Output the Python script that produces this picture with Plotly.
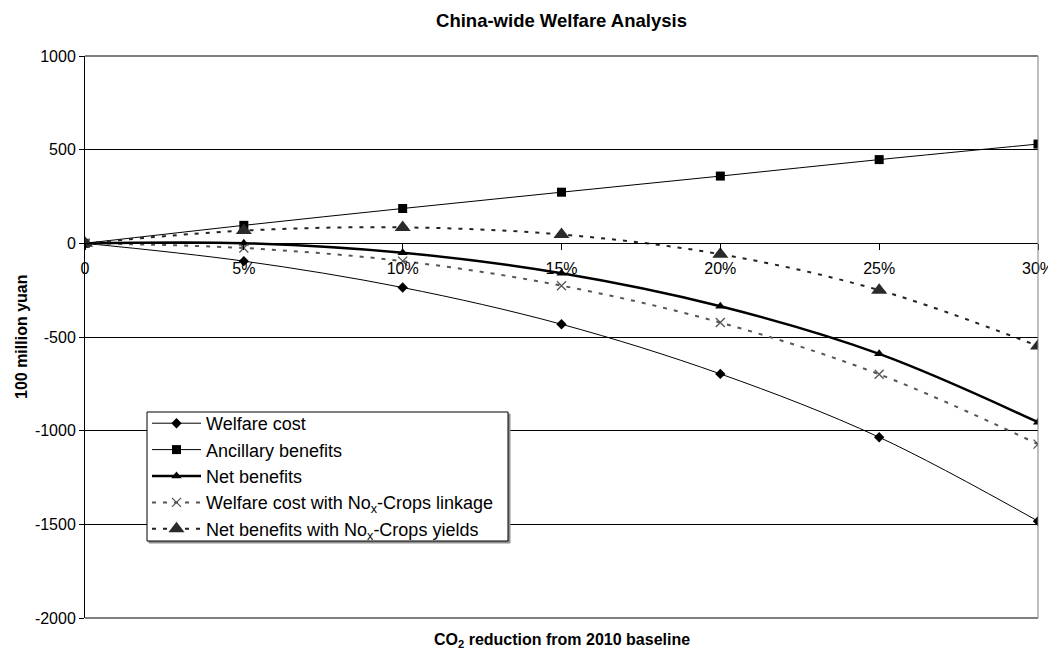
import plotly.graph_objects as go

x_vals = [0, 5, 10, 15, 20, 25, 30]
x_labels = ["0", "5%", "10%", "15%", "20%", "25%", "30%"]
y_vals = [-2000, -1500, -1000, -500, 0, 500, 1000]
y_labels = ["-2000", "-1500", "-1000", "-500", "0", "500", "1000"]

welfare_cost = [0, -95, -236, -432, -697, -1035, -1483]
ancillary_benefits = [0, 96, 186, 273, 359, 447, 530]
net_benefits = [0, 1, -50, -160, -336, -590, -955]
welfare_cost_nox = [0, -25, -95, -226, -423, -699, -1072]
net_benefits_nox = [0, 68, 85, 47, -58, -250, -548]

FONT = "Liberation Sans, Arial, sans-serif"

# the page body has an 8px default margin; the figure is sized to fit the window
W, H = 1048, 647
PL, PR, PT, PB = 77, 18, 48, 37  # plot area: page x 85..1038, page y 56..618
PW, PH = W - PL - PR, H - PT - PB


def px_x(page_x):
    return (page_x - 85) / PW


def px_y(page_y):
    return (618 - page_y) / PH


fig = go.Figure()
fig.add_trace(go.Scatter(
    x=x_vals, y=welfare_cost, name="Welfare cost", mode="lines+markers",
    line=dict(color="black", width=1, shape="spline"),
    marker=dict(symbol="diamond", size=8, color="black")))
fig.add_trace(go.Scatter(
    x=x_vals, y=ancillary_benefits, name="Ancillary benefits", mode="lines+markers",
    line=dict(color="black", width=1, shape="spline"),
    marker=dict(symbol="square", size=9, color="black")))
fig.add_trace(go.Scatter(
    x=x_vals, y=net_benefits, name="Net benefits", mode="lines+markers",
    line=dict(color="black", width=2.5, shape="spline"),
    marker=dict(symbol="triangle-up", size=9, color="black")))
fig.add_trace(go.Scatter(
    x=x_vals, y=welfare_cost_nox, name="Welfare cost with No<sub>x</sub>-Crops linkage",
    mode="lines+markers",
    line=dict(color="#555555", width=2, dash="4px,7px", shape="spline"),
    marker=dict(symbol="x-thin", size=9, color="#555555",
                line=dict(color="#555555", width=1.3))))
fig.add_trace(go.Scatter(
    x=x_vals, y=net_benefits_nox, name="Net benefits with No<sub>x</sub>-Crops yields",
    mode="lines+markers",
    line=dict(color="#222222", width=2, dash="4px,7px", shape="spline"),
    marker=dict(symbol="triangle-up", size=14, color="#2a2a2a")))

fig.update_layout(
    width=W, height=H,
    margin=dict(l=PL, r=PR, t=PT, b=PB, autoexpand=False),
    paper_bgcolor="white", plot_bgcolor="white",
    font=dict(family=FONT, size=16, color="black"),
    title=dict(text="<b>China-wide Welfare Analysis</b>", x=0.5, xref="paper",
               xanchor="center", y=1 - 13 / H, yref="container", yanchor="middle",
               font=dict(size=18.5, family=FONT, color="black")),
    showlegend=True,
    legend=dict(x=px_x(147), y=px_y(405), xanchor="left", yanchor="top",
                bgcolor="rgba(0,0,0,0)", borderwidth=0,
                font=dict(size=18, family=FONT, color="black"),
                itemwidth=49, tracegroupgap=0),
    xaxis=dict(range=[0, 30], tickvals=x_vals, ticktext=x_labels,
               showgrid=False, zeroline=False, showline=True, linecolor="black",
               linewidth=1, ticks="outside", ticklen=6, tickcolor="black",
               ticklabelstandoff=4,
               anchor="free", position=2 / 3,
               tickfont=dict(size=16, family=FONT, color="black")),
    yaxis=dict(range=[-2000, 1000], tickvals=y_vals, ticktext=y_labels,
               showgrid=True, gridcolor="black",
               gridwidth=1, zeroline=False, showline=True, linecolor="black",
               linewidth=1, ticks="outside", ticklen=5, tickcolor="black",
               tickfont=dict(size=16, family=FONT, color="black")),
)

# plot-area border (gray top/right/bottom)
fig.add_shape(type="line", xref="paper", yref="paper", x0=0, x1=1, y0=1, y1=1,
              line=dict(color="#808080", width=2))
fig.add_shape(type="line", xref="paper", yref="paper", x0=1, x1=1, y0=0, y1=1,
              line=dict(color="#808080", width=1))
fig.add_shape(type="line", xref="paper", yref="paper", x0=0, x1=1, y0=0, y1=0,
              line=dict(color="#808080", width=2))

# legend box (white, black border, slight gray shadow)
fig.add_shape(type="rect", xref="paper", yref="paper",
              x0=px_x(149), x1=px_x(510), y0=px_y(543), y1=px_y(414),
              line=dict(color="#909090", width=1), fillcolor="#909090", layer="above")
fig.add_shape(type="rect", xref="paper", yref="paper",
              x0=px_x(147), x1=px_x(508), y0=px_y(541), y1=px_y(412),
              line=dict(color="black", width=1), fillcolor="white", layer="above")

fig.add_annotation(text="<b>CO<sub>2</sub> reduction from 2010 baseline</b>",
                   xref="paper", yref="paper", x=0.5, y=-(640 - 618) / PH,
                   xanchor="center", yanchor="middle", showarrow=False,
                   font=dict(size=16, family=FONT, color="black"))
fig.add_annotation(text="<b>100 million yuan</b>", textangle=-90,
                   xref="paper", yref="paper", x=-(85 - 21) / PW, y=0.5,
                   xanchor="center", yanchor="middle", showarrow=False,
                   font=dict(size=16, family=FONT, color="black"))

fig.write_html("out.html")
